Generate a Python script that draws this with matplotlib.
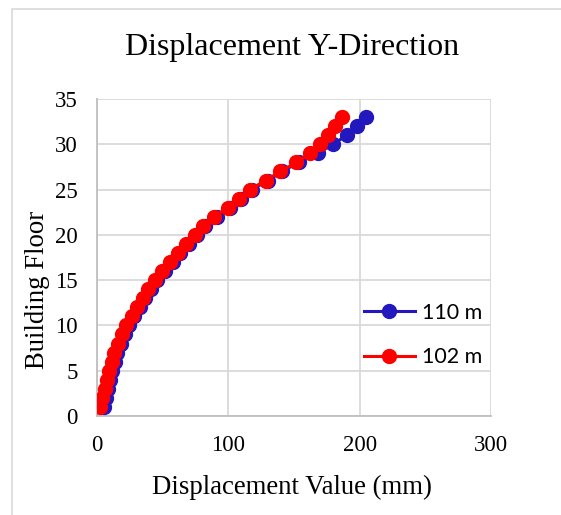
import numpy as np
import matplotlib.pyplot as plt
from matplotlib.patches import Rectangle

floors = list(range(1, 34))
disp_110 = [5.5, 7, 8.5, 10, 11.5, 13.5, 15.5, 18, 21, 24, 28.5, 32.5, 36.5, 41, 46,
            51.5, 57.5, 63.5, 70, 76, 82.5, 91, 101, 109.5, 118, 130, 141, 153.5,
            168, 180, 190, 198, 205]
disp_102 = [2, 4, 5.8, 7.5, 9.3, 11.3, 13.3, 15.8, 18.8, 22, 26.4, 30.6, 34.7, 39, 44,
            49.5, 55.5, 61.5, 68, 74.4, 80.7, 88.8, 100, 108, 116.2, 128.4, 139.6, 151.8,
            162.4, 169.5, 176, 181, 186.5]
labels = ['110 m', '102 m']

BLUE = '#2318BE'
RED = '#FF0000'
SERIF = 'Liberation Serif'

fig = plt.figure(figsize=(5.61, 5.15), dpi=100)
fig.patches.append(Rectangle((12/561, -0.01), 1.0, 1 - 9/515 + 0.01, transform=fig.transFigure,
                             fill=False, edgecolor='#D9D9D9', linewidth=1.2))
ax = fig.add_axes([97/561, 1 - 416/515, 394/561, 317/515])

ax.plot(disp_110, floors, '-o', color=BLUE, markersize=10, linewidth=2.2, label=labels[0], zorder=3)
ax.plot(disp_102, floors, '-o', color=RED, markersize=10, linewidth=2.2, label=labels[1], zorder=4)

ax.set_xlim(0, 300)
ax.set_ylim(0, 35)
ax.set_xticks([0, 100, 200, 300])
ax.set_yticks(range(0, 36, 5))
ax.grid(True, color='#D9D9D9', linewidth=1.3)
ax.set_axisbelow(True)
for s in ['top', 'right']:
    ax.spines[s].set_visible(False)
for s in ['left', 'bottom']:
    ax.spines[s].set_color('#BFBFBF')
    ax.spines[s].set_linewidth(1.3)
ax.tick_params(length=0, labelsize=16.5, pad=14)
for t in ax.get_xticklabels() + ax.get_yticklabels():
    t.set_fontfamily(SERIF)

fig.text(292/561, 1 - 47/515, 'Displacement Y-Direction', family=SERIF, fontsize=23,
         ha='center', va='center')
fig.text(292/561, 1 - 487/515, 'Displacement Value (mm)', family=SERIF, fontsize=19.3,
         ha='center', va='center')
fig.text(38/561, 1 - 290/515, 'Building Floor', family=SERIF, fontsize=19.3,
         ha='center', va='center', rotation=90)

ax.legend(loc='center left', bbox_to_anchor=(355/561, 1 - 335/515), bbox_transform=fig.transFigure,
          frameon=False, prop={'family': 'Lato', 'size': 15.5}, handlelength=2.4,
          labelspacing=1.15, handletextpad=0.3, borderaxespad=0)

fig.savefig('out.png', dpi=100)
